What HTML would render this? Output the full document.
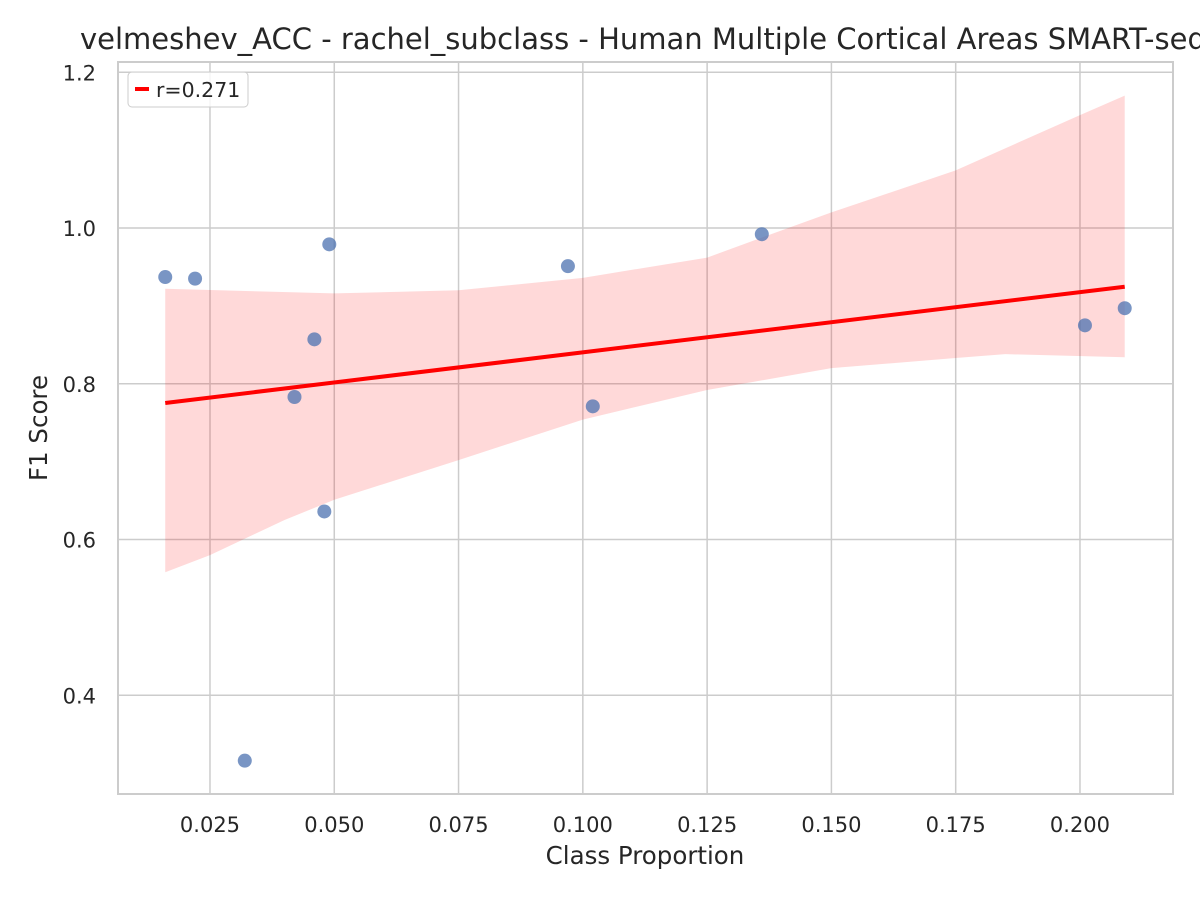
<!DOCTYPE html>
<html><head><meta charset="utf-8"><style>
body{margin:0;background:#fff;overflow:hidden;}
text{font-family:"DejaVu Sans","Liberation Sans",sans-serif;fill:#262626;}
</style></head><body>
<svg id="chart" width="1200" height="900" xmlns="http://www.w3.org/2000/svg">
<text x="80" y="49" font-size="29">velmeshev_ACC - rachel_subclass - Human Multiple Cortical Areas SMART-seq</text>
<g id="grid"></g><g id="band"></g><g id="pts"></g><g id="line"></g><g id="axes"></g>
<text x="645" y="864" font-size="24.5" text-anchor="middle">Class Proportion</text>
<text transform="translate(47,428) rotate(-90)" font-size="24.5" text-anchor="middle">F1 Score</text>
<g>
<rect x="128" y="72" width="120" height="35" rx="4" fill="#fff" fill-opacity="0.8" stroke="#ccc"/>
<line x1="135" y1="89" x2="149" y2="89" stroke="red" stroke-width="4"/>
<text x="156" y="97" font-size="20.5">r=0.271</text>
</g>
</svg>
<script>
const xs=[0.016,0.022,0.032,0.042,0.046,0.048,0.049,0.097,0.102,0.136,0.201,0.209];
const ys=[0.937,0.935,0.316,0.783,0.857,0.636,0.979,0.951,0.771,0.992,0.875,0.897];
const bandUpX=[0.016,0.05,0.075,0.1,0.125,0.137,0.15,0.175,0.2,0.209];
const bandUp=[0.922,0.916,0.92,0.936,0.962,0.99,1.02,1.074,1.145,1.17];
const bandLoX=[0.016,0.025,0.04,0.05,0.075,0.1,0.125,0.15,0.175,0.185,0.209];
const bandLo=[0.558,0.58,0.625,0.651,0.702,0.754,0.792,0.82,0.833,0.838,0.834];
const xTicks=[0.025,0.050,0.075,0.100,0.125,0.150,0.175,0.200];
const yTicks=[0.4,0.6,0.8,1.0,1.2];
const L=118,R=1173,T=62,B=794;
const X=v=>85.7+v*4971.4;
const Y=v=>228-(v-1)*778.75;
const NS="http://www.w3.org/2000/svg";
function mk(p,tag,a){const e=document.createElementNS(NS,tag);for(const k in a)e.setAttribute(k,a[k]);document.getElementById(p).appendChild(e);return e;}
xTicks.forEach(t=>{const g=mk('grid','line',{x1:X(t),x2:X(t),y1:T,y2:B,stroke:'#ccc','stroke-width':1.5});

const l=mk('axes','text',{x:X(t),y:B+38,'font-size':21,'text-anchor':'middle'});l.textContent=t.toFixed(3);
});
yTicks.forEach(t=>{const g=mk('grid','line',{x1:L,x2:R,y1:Y(t),y2:Y(t),stroke:'#ccc','stroke-width':1.5});

const l=mk('axes','text',{x:L-22,y:Y(t)+8,'font-size':21,'text-anchor':'end'});l.textContent=t.toFixed(1);
});
const fr=mk('axes','rect',{x:L,y:T,width:R-L,height:B-T,fill:'none',stroke:'#ccc','stroke-width':2});

const n=xs.length,mx=xs.reduce((a,b)=>a+b)/n,my=ys.reduce((a,b)=>a+b)/n;
let sxx=0,sxy=0;xs.forEach((x,i)=>{sxx+=(x-mx)**2;sxy+=(x-mx)*(ys[i]-my);});
const b=sxy/sxx,a=my-b*mx;
const x0=Math.min(...xs),x1=Math.max(...xs);
const up=bandUpX.map((x,i)=>[X(x),Y(bandUp[i])]);
const lo=bandLoX.map((x,i)=>[X(x),Y(bandLo[i])]).reverse();
const pts=up.concat(lo).map(p=>p.join(',')).join(' ');
const bd=mk('band','polygon',{points:pts,fill:'#ff0000','fill-opacity':0.15});

xs.forEach((x,i)=>{const c=mk('pts','circle',{cx:X(x),cy:Y(ys[i]),r:7,fill:'#4c72b0','fill-opacity':0.75});
});
const ln=mk('line','line',{x1:X(x0),y1:Y(a+b*x0),x2:X(x1),y2:Y(a+b*x1),stroke:'red','stroke-width':4});

</script>
</body></html>
